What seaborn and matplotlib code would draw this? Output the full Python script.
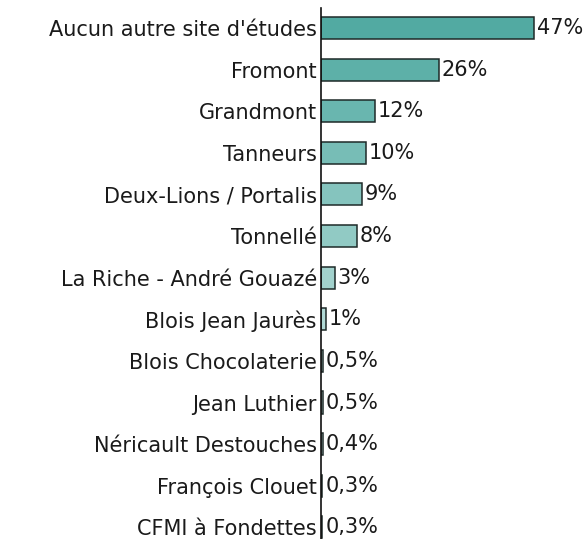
import pandas as pd
import seaborn as sns
import matplotlib.pyplot as plt

# Données
sites = ["Aucun autre site d'études", "Fromont", "Grandmont", "Tanneurs",
         "Deux-Lions / Portalis", "Tonnellé", "La Riche - André Gouazé",
         "Blois Jean Jaurès", "Blois Chocolaterie", "Jean Luthier",
         "Néricault Destouches", "François Clouet", "CFMI à Fondettes"]
pourcentages = [47, 26, 12, 10, 9, 8, 3, 1, 0.5, 0.5, 0.4, 0.3, 0.3]
etiquettes = ["47%", "26%", "12%", "10%", "9%", "8%", "3%", "1%",
              "0,5%", "0,5%", "0,4%", "0,3%", "0,3%"]
couleurs = ["#52aaa2", "#5db0a8", "#69b6af", "#77bdb6", "#85c4be", "#91cac4",
            "#a2d2cd", "#b0d9d5", "#bcdfdb", "#c2e2df", "#c8e5e2", "#cde8e5", "#d2eae8"]

df = pd.DataFrame({'site': sites, 'pct': pourcentages})

sns.set_style('white')
plt.rcParams['font.family'] = ['DejaVu Sans']

fig = plt.figure(figsize=(5.87, 5.39), dpi=100)
ax = fig.add_axes([321 / 587, 0, 258 / 587, 1 - 8 / 539])

sns.barplot(data=df, y='site', x='pct', hue='site', palette=couleurs,
            saturation=1, legend=False, orient='h', width=0.53,
            edgecolor='#1e2a28', linewidth=1.1, ax=ax)

for cont, lab in zip(ax.containers, etiquettes):
    ax.bar_label(cont, labels=[lab], padding=2, fontsize=15, color='#1a1a1a',
                 clip_on=False)

ax.set_xlim(0, 57)
ax.set_ylim(12.28, -0.48)
ax.set_xlabel('')
ax.set_ylabel('')
ax.set_xticks([])
ax.tick_params(axis='y', length=0, pad=3, labelsize=15, labelcolor='#1a1a1a')
for s in ['top', 'right', 'bottom']:
    ax.spines[s].set_visible(False)
ax.spines['left'].set_color('#111111')
ax.spines['left'].set_linewidth(1.2)

plt.savefig('out.png', dpi=100)
